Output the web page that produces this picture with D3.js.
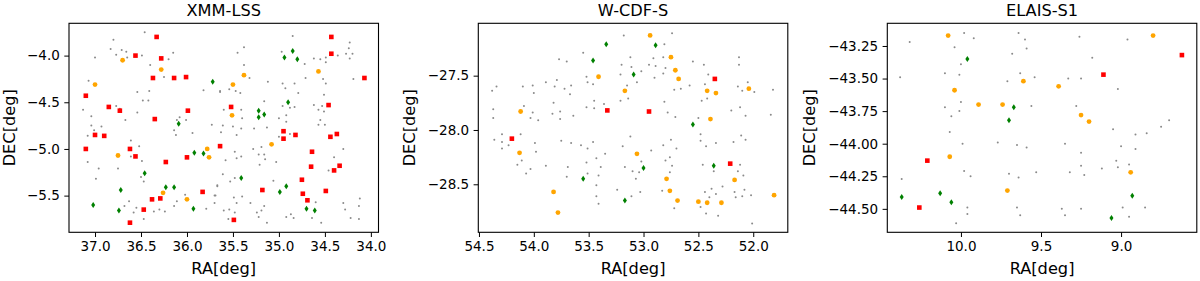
<!DOCTYPE html>
<html>
<head>
<meta charset="utf-8">
<script src="https://cdn.jsdelivr.net/npm/d3@7"></script>
<style>
  body { margin: 0; background: #fff; }
  text { font-family: "DejaVu Sans", sans-serif; fill: #000; }
</style>
</head>
<body>
<svg width="1200" height="281"></svg>
<script>
// ---- XMM-LSS ----
var xmmGray = [[36.46,-3.75],[36.80,-3.83],[36.83,-3.93],[36.71,-3.94],[36.66,-3.96],[36.77,-3.99],[36.65,-4.02],[36.49,-4.00],
  [36.15,-3.97],[36.20,-4.04],[37.00,-4.02],[36.40,-4.10],[36.25,-4.23],[37.07,-4.27],[36.54,-4.39],[36.41,-4.38],[36.48,-4.48],
  [36.42,-4.48],[37.13,-4.58],[36.77,-4.54],[36.73,-4.57],[36.54,-4.61],[37.04,-4.65],[36.67,-4.69],[36.08,-4.66],[36.11,-4.69],
  [36.01,-4.69],[35.73,-4.74],[37.04,-4.75],[36.93,-4.76],[37.01,-4.80],[37.08,-4.86],[36.14,-4.80],[36.12,-4.85],[35.94,-4.83],
  [36.61,-4.91],[36.52,-4.97],[36.61,-5.08],[36.49,-5.13],[37.08,-5.14],[36.75,-5.21],[36.96,-5.21],[36.99,-5.32],[36.50,-5.30],
  [36.47,-5.35],[35.67,-5.39],[35.69,-5.50],[35.70,-5.58],[36.02,-5.49],[36.63,-5.56],[36.68,-5.61],[36.55,-5.63],[36.58,-5.68],
  [36.47,-5.75],[36.36,-5.67],[36.30,-5.65],[36.24,-5.67],[36.14,-5.61],[36.11,-5.56],[35.79,-5.64],[35.82,-4.37],[35.64,-4.39],
  [34.85,-3.79],[34.23,-3.86],[34.24,-3.92],[34.27,-3.98],[34.20,-3.98],[34.23,-4.03],[34.36,-4.00],[35.38,-3.91],[35.45,-3.97],
  [35.38,-4.10],[34.97,-3.96],[34.62,-4.03],[34.55,-4.04],[34.49,-4.02],[34.49,-4.07],[34.72,-4.09],[35.32,-4.24],[35.64,-4.38],
  [35.54,-4.36],[35.47,-4.38],[35.42,-4.40],[35.12,-4.28],[34.96,-4.30],[34.93,-4.35],[34.83,-4.30],[34.79,-4.40],[34.71,-4.24],
  [34.52,-4.25],[34.49,-4.30],[34.19,-4.25],[35.16,-4.49],[34.96,-4.54],[34.88,-4.56],[34.83,-4.55],[34.51,-4.42],[34.62,-4.53],
  [34.57,-4.58],[34.53,-4.54],[34.51,-4.60],[35.60,-4.58],[35.41,-4.58],[35.40,-4.67],[35.00,-4.67],[34.92,-4.64],[34.92,-4.71],
  [34.55,-4.69],[34.57,-4.74],[34.50,-4.74],[35.61,-4.75],[35.50,-4.76],[35.41,-4.78],[35.46,-4.85],[35.63,-4.82],[35.27,-4.78],
  [35.13,-4.77],[35.00,-4.87],[34.88,-4.84],[35.28,-5.00],[35.19,-4.98],[35.22,-5.06],[35.16,-5.06],[35.15,-5.11],[35.21,-5.17],
  [35.03,-5.14],[35.48,-5.03],[35.41,-5.08],[35.46,-5.10],[35.58,-5.12],[34.30,-5.00],[34.40,-5.09],[34.46,-5.23],[35.61,-5.27],
  [35.53,-5.35],[35.48,-5.31],[35.67,-5.40],[35.06,-5.34],[35.70,-5.50],[35.49,-5.52],[35.40,-5.51],[35.46,-5.58],[35.31,-5.58],
  [35.16,-5.61],[35.60,-5.66],[35.54,-5.65],[35.48,-5.68],[35.55,-5.75],[35.24,-5.68],[35.19,-5.66],[35.22,-5.73],[35.13,-5.79],
  [34.92,-5.73],[34.87,-5.70],[34.84,-5.74],[34.60,-5.57],[34.64,-5.74],[34.54,-5.79],[34.30,-5.58],[34.28,-5.65],[34.13,-5.61],
  [34.12,-5.53],[34.22,-5.74],[34.13,-5.75]];
var xmmRed = [[36.33,-3.80],[34.43,-3.80],[36.56,-4.00],[36.28,-4.03],[34.43,-3.98],[36.37,-4.24],[36.14,-4.24],[36.01,-4.23],
  [34.07,-4.24],[37.10,-4.43],[36.85,-4.55],[36.73,-4.59],[35.99,-4.59],[35.52,-4.55],[34.46,-4.53],[36.35,-4.68],[37.00,-4.85],
  [36.90,-4.86],[34.95,-4.81],[34.82,-4.85],[34.37,-4.84],[34.44,-4.87],[34.95,-4.89],[37.10,-5.00],[36.62,-5.00],[36.56,-5.08],
  [35.64,-4.97],[36.00,-5.09],[36.23,-5.14],[34.64,-5.03],[34.65,-5.19],[34.34,-5.18],[34.40,-5.23],[34.75,-5.33],[35.18,-5.44],
  [35.83,-5.46],[34.74,-5.48],[34.49,-5.45],[36.29,-5.53],[36.38,-5.54],[34.69,-5.55],[36.47,-5.65],[36.62,-5.79],[35.49,-5.76]];
var xmmOrange = [[36.70,-4.05],[37.00,-4.31],[36.28,-4.15],[35.38,-4.21],[35.50,-4.31],[35.51,-4.64],[34.57,-4.17],[36.75,-5.07],
  [35.78,-5.00],[35.76,-5.09],[35.08,-4.95],[36.26,-5.47],[36.00,-5.54]];
var xmmGreen = [[34.94,-4.02],[34.85,-3.95],[34.80,-4.04],[34.90,-4.50],[35.22,-4.59],[35.22,-4.66],[35.16,-4.63],[35.41,-5.31],
  [34.92,-5.40],[34.99,-5.46],[34.70,-5.64],[34.61,-5.66],[35.72,-4.28],[36.09,-4.73],[35.92,-5.04],[35.82,-5.05],[36.46,-5.26],
  [37.02,-5.60],[36.72,-5.44],[36.74,-5.66],[36.23,-5.41],[36.14,-5.41],[35.93,-5.64]];

// ---- W-CDF-S ----
var cdfsGray = [[54.38,-27.64],[54.34,-27.60],[54.37,-27.81],[54.37,-27.89],[54.36,-28.09],[54.29,-28.04],[54.29,-28.11],
  [54.29,-28.17],[54.23,-28.14],[54.12,-28.04],[54.15,-28.32],[54.11,-28.28],[54.07,-28.40],[54.03,-28.36],[53.89,-28.33],
  [54.10,-27.60],[54.01,-27.59],[54.00,-27.66],[54.09,-27.78],[54.01,-27.84],[54.03,-27.89],[53.96,-27.91],[53.99,-28.12],
  [53.98,-28.20],[53.89,-27.56],[53.81,-27.60],[53.79,-27.54],[53.77,-27.35],[53.70,-27.37],[53.72,-27.62],[53.67,-27.67],
  [53.66,-27.59],[53.82,-27.75],[53.83,-27.85],[53.76,-27.83],[53.76,-27.90],[53.64,-27.87],[53.55,-27.29],[53.52,-27.51],
  [53.51,-27.56],[53.46,-27.58],[53.45,-27.73],[53.45,-27.80],[53.52,-27.79],[53.36,-27.76],[53.75,-28.10],[53.66,-28.12],
  [53.57,-28.14],[53.51,-28.17],[53.46,-28.11],[53.35,-28.22],[53.43,-28.26],[53.39,-28.34],[53.52,-28.30],[53.51,-28.40],
  [53.69,-28.34],[53.70,-28.43],[53.41,-28.42],[53.43,-28.51],[53.43,-28.61],[53.41,-28.68],
  [53.18,-27.13],[52.74,-27.11],[52.81,-27.21],[53.12,-27.33],[53.20,-27.40],[53.11,-27.42],[53.21,-27.49],[53.06,-27.56],
  [53.02,-27.46],[53.15,-27.59],[53.21,-27.73],[53.14,-27.71],[52.91,-27.34],[52.82,-27.33],[52.95,-27.40],[52.89,-27.41],
  [52.80,-27.43],[52.90,-27.52],[52.82,-27.48],[52.55,-27.37],[52.45,-27.40],[52.41,-27.49],[52.44,-27.58],[52.58,-27.59],
  [52.72,-27.63],[52.66,-27.62],[52.47,-27.73],[52.42,-27.71],[52.81,-27.74],[52.78,-27.84],[52.71,-27.88],[52.50,-27.89],
  [52.13,-27.33],[52.13,-27.40],[52.05,-27.56],[52.14,-27.60],[52.10,-27.64],[51.99,-27.65],[51.82,-27.63],[52.20,-27.82],
  [52.12,-27.79],[52.07,-27.87],[51.84,-27.86],[53.12,-28.06],[53.19,-28.15],[52.93,-28.19],[52.82,-28.14],[52.75,-28.09],
  [52.70,-28.17],[52.48,-28.04],[52.48,-28.10],[52.43,-28.15],[52.34,-28.12],[52.18,-28.11],[52.11,-28.05],[52.07,-28.09],
  [52.76,-28.25],[52.80,-28.28],[52.74,-28.33],[52.76,-28.39],[53.17,-28.34],[53.10,-28.38],[53.04,-28.39],[53.02,-28.29],
  [53.07,-28.45],[53.24,-28.55],[53.11,-28.61],[53.03,-28.57],[52.83,-28.56],[52.72,-28.72],[52.46,-28.32],[52.36,-28.38],
  [52.28,-28.52],[52.38,-28.54],[52.44,-28.57],[52.34,-28.59],[52.40,-28.62],[52.48,-28.71],[52.43,-28.77],[52.32,-28.79],
  [52.17,-28.57],[52.16,-28.62],[52.08,-28.55],[52.10,-28.61],[52.02,-28.60],[52.12,-28.32],[52.14,-28.38],[52.09,-28.42],
  [52.01,-28.86]];
var cdfsRed = [[53.33,-27.82],[54.20,-28.08],[52.35,-27.53],[52.95,-27.83],[52.21,-28.31]];
var cdfsOrange = [[53.41,-27.51],[54.12,-27.83],[54.13,-28.21],[53.82,-28.57],[53.78,-28.76],[52.94,-27.13],[52.75,-27.33],
  [52.71,-27.45],[52.68,-27.53],[53.17,-27.64],[52.42,-27.64],[52.34,-27.66],[52.04,-27.62],[52.39,-27.90],[53.06,-28.22],
  [52.79,-28.45],[52.76,-28.56],[52.69,-28.65],[52.50,-28.66],[52.42,-28.67],[52.29,-28.67],[52.17,-28.46],[51.81,-28.60]];
var cdfsGreen = [[53.34,-27.21],[53.46,-27.36],[53.55,-28.45],[52.89,-27.22],[53.09,-27.49],[52.55,-27.95],[52.36,-28.33],
  [53.00,-28.35],[53.17,-28.65]];

// ---- ELAIS-S1 ----
var es1Gray = [[10.32,-43.22],[9.98,-43.15],[9.92,-43.19],[10.04,-43.26],[10.00,-43.39],[10.10,-43.46],[10.01,-43.47],
  [10.38,-43.49],[10.10,-43.72],[10.00,-43.68],[10.01,-43.75],[10.06,-43.79],[10.07,-43.91],[9.99,-44.00],[9.77,-43.99],
  [9.71,-43.52],[9.68,-43.31],[9.98,-44.21],[9.94,-44.25],[9.70,-44.23],[10.37,-44.27],[9.96,-44.49],[9.96,-44.54],[10.03,-44.61],
  [9.64,-43.15],[9.60,-43.20],[9.59,-43.27],[9.26,-43.18],[8.96,-43.20],[9.18,-43.34],[9.63,-43.46],[9.54,-43.49],[9.33,-43.50],
  [9.25,-43.50],[9.02,-43.58],[9.56,-43.71],[9.28,-43.71],[9.05,-43.89],[8.91,-43.93],[8.84,-43.92],[8.75,-43.87],[8.70,-43.82],
  [9.65,-44.01],[9.59,-44.03],[9.35,-44.00],[9.25,-44.07],[9.00,-44.02],[8.91,-44.04],[9.03,-44.13],[9.25,-44.17],[9.02,-44.18],
  [8.95,-44.16],[9.12,-44.19],[9.32,-44.22],[9.23,-44.24],[9.53,-44.22],[9.64,-44.26],[9.65,-44.49],[9.63,-44.55],[9.37,-44.50],
  [9.35,-44.55],[9.25,-44.50],[8.99,-44.49],[8.85,-44.49],[8.95,-44.56]];
var es1Red = [[10.21,-44.13],[10.26,-44.49],[8.62,-43.32],[9.11,-43.47]];
var es1Orange = [[10.08,-43.17],[10.04,-43.59],[9.89,-43.70],[9.74,-43.70],[10.07,-44.10],[9.71,-44.36],[8.80,-43.17],
  [9.61,-43.52],[9.39,-43.56],[9.25,-43.78],[9.20,-43.83],[8.94,-44.22]];
var es1Green = [[9.96,-43.35],[9.67,-43.72],[9.70,-43.82],[10.37,-44.41],[10.13,-44.38],[10.06,-44.45],[8.93,-44.40],[9.06,-44.57]];

var titles = ["XMM-LSS", "W-CDF-S", "ELAIS-S1"];
var raTicks = [[37.0, 36.5, 36.0, 35.5, 35.0, 34.5, 34.0], [54.5, 54.0, 53.5, 53.0, 52.5, 52.0], [10.0, 9.5, 9.0]];
var decTicks = [[-4.0, -4.5, -5.0, -5.5], [-27.5, -28.0, -28.5], [-43.25, -43.5, -43.75, -44.0, -44.25, -44.5]];
var raDomains = [[37.283, 33.917], [54.506, 51.685], [10.46, 8.527]];
var decDomains = [[-3.654, -5.893], [-27.018, -28.942], [-43.076, -44.68]];
var decFormats = [".1f", ".1f", ".2f"];

var sets = [
  {gray: xmmGray, red: xmmRed, orange: xmmOrange, green: xmmGreen},
  {gray: cdfsGray, red: cdfsRed, orange: cdfsOrange, green: cdfsGreen},
  {gray: es1Gray, red: es1Red, orange: es1Orange, green: es1Green}
];

var svg = d3.select("svg"),
    lefts = [69, 478.3, 887.3],
    labelOffsets = [-54, -63, -72],
    topY = 23.3,
    w = 309.5,
    h = 209;

var diamond = "M0,-3L2,0L0,3L-2,0Z";

titles.forEach(function(title, i) {
  var g = svg.append("g").attr("transform", "translate(" + lefts[i] + "," + topY + ")");

  var x = d3.scaleLinear().domain(raDomains[i]).range([0, w]);
  var y = d3.scaleLinear().domain(decDomains[i]).range([0, h]);

  var xAxis = g.append("g")
      .attr("transform", "translate(0," + h + ")")
      .call(d3.axisBottom(x).tickValues(raTicks[i]).tickFormat(d3.format(".1f"))
        .tickSize(4.7).tickPadding(4.5).tickSizeOuter(0));
  var yAxis = g.append("g")
      .call(d3.axisLeft(y).tickValues(decTicks[i]).tickFormat(d3.format(decFormats[i]))
        .tickSize(4.7).tickPadding(4.5).tickSizeOuter(0));
  [xAxis, yAxis].forEach(function(a) {
    a.select(".domain").remove();
    a.selectAll("line").attr("stroke", "#000").attr("stroke-width", 1);
    a.selectAll("text").style("font-size", "13.5px").style("font-family", "DejaVu Sans");
  });

  var s = sets[i];

  g.append("g").selectAll("circle")
    .data(s.gray)
    .enter().append("circle")
      .attr("cx", function(d) { return x(d[0]); })
      .attr("cy", function(d) { return y(d[1]); })
      .attr("r", 1)
      .attr("fill", "#8a8a8a");

  g.append("g").selectAll("path")
    .data(s.green)
    .enter().append("path")
      .attr("d", diamond)
      .attr("transform", function(d) { return "translate(" + x(d[0]) + "," + y(d[1]) + ")"; })
      .attr("fill", "green");

  g.append("g").selectAll("circle")
    .data(s.orange)
    .enter().append("circle")
      .attr("cx", function(d) { return x(d[0]); })
      .attr("cy", function(d) { return y(d[1]); })
      .attr("r", 2.4)
      .attr("fill", "orange");

  g.append("g").selectAll("rect")
    .data(s.red)
    .enter().append("rect")
      .attr("x", function(d) { return x(d[0]) - 2.3; })
      .attr("y", function(d) { return y(d[1]) - 2.3; })
      .attr("width", 4.6)
      .attr("height", 4.6)
      .attr("fill", "red");

  g.append("rect")
      .attr("width", w)
      .attr("height", h)
      .attr("fill", "none")
      .attr("stroke", "#000")
      .attr("stroke-width", 1.1);

  g.append("text")
      .attr("x", w / 2)
      .attr("y", -7.5)
      .attr("text-anchor", "middle")
      .style("font-size", "16.2px")
      .text(title);

  g.append("text")
      .attr("x", w / 2)
      .attr("y", 251)
      .attr("text-anchor", "middle")
      .style("font-size", "16.2px")
      .text("RA[deg]");

  g.append("text")
      .attr("transform", "translate(" + labelOffsets[i] + "," + (h / 2) + ") rotate(-90)")
      .attr("text-anchor", "middle")
      .style("font-size", "16.2px")
      .text("DEC[deg]");
});
</script>
</body>
</html>
